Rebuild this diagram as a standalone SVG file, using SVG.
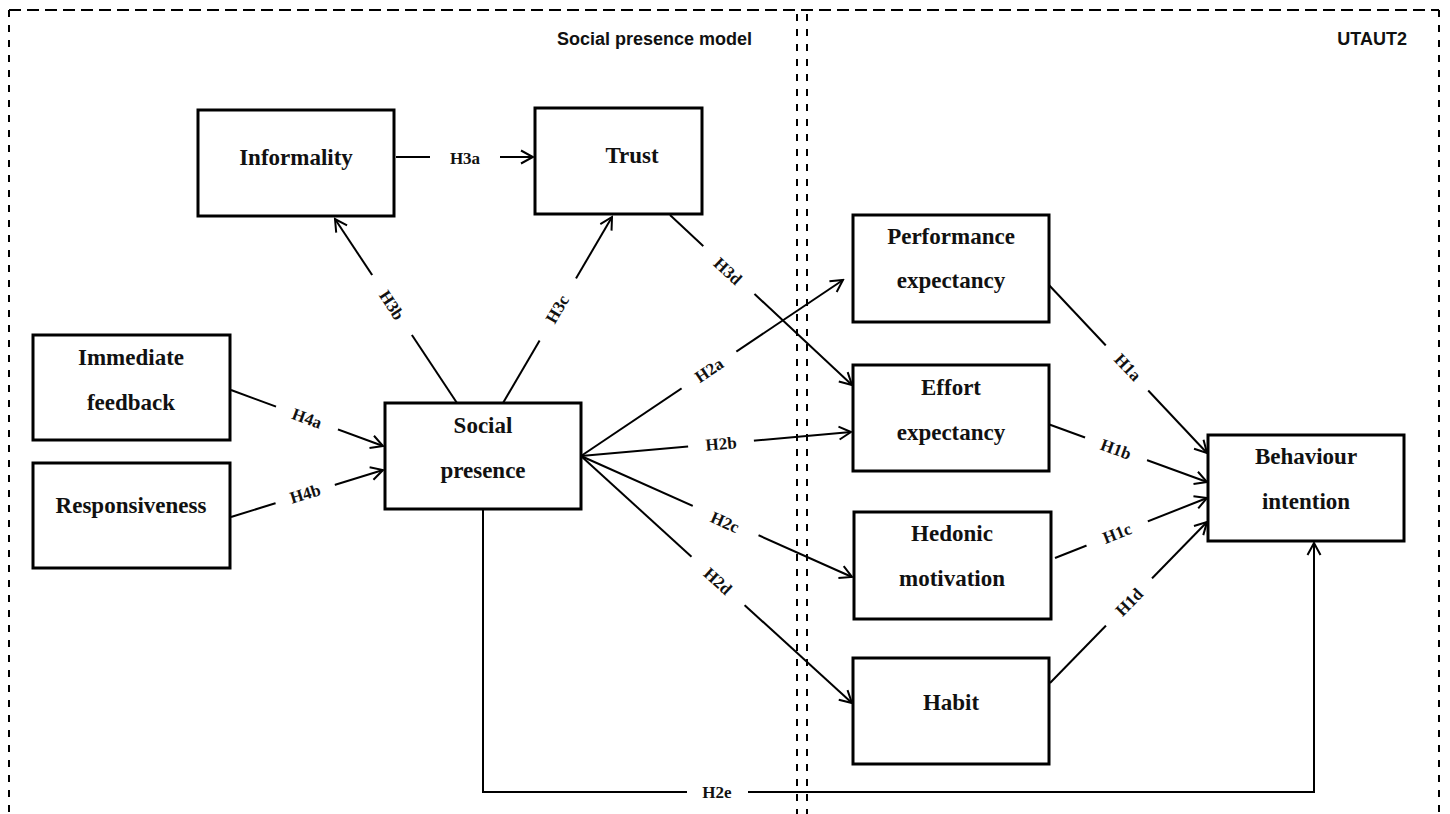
<svg xmlns="http://www.w3.org/2000/svg" width="1450" height="814" viewBox="0 0 1450 814">
<style>
.bg{fill:#fff}
.box{fill:#fff;stroke:#000;stroke-width:3}
.nt{font-family:"Liberation Serif","Times New Roman",serif;font-weight:bold;font-size:23px;fill:#111;text-anchor:middle}
.lt{font-family:"Liberation Serif","Times New Roman",serif;font-weight:bold;font-size:17px;fill:#111;text-anchor:middle}
.hd{font-family:"Liberation Sans",Arial,sans-serif;font-weight:bold;font-size:18px;fill:#111;text-anchor:end}
.dh{stroke:#000;stroke-width:2;stroke-dasharray:12 6;fill:none}
.dv{stroke:#000;stroke-width:2;stroke-dasharray:7 8;fill:none}
.cn{stroke:#000;stroke-width:2;fill:none}
.ar{marker-end:url(#arr)}
.gap{fill:#fff}
</style>
<defs>
<marker id="arr" viewBox="-14 -8 16 16" refX="0" refY="0" markerWidth="16" markerHeight="16" markerUnits="userSpaceOnUse" orient="auto">
<path d="M-12,-6.5 L0,0 L-12,6.5" fill="none" stroke="#000" stroke-width="2"/>
</marker>
</defs>
<rect class="bg" x="0" y="0" width="1450" height="814"/>
<g id="frames">
<line class="dh" x1="9" y1="10" x2="1439" y2="10"/>
<line class="dv" x1="9" y1="10" x2="9" y2="814"/>
<line class="dv" x1="797" y1="14" x2="797" y2="814"/>
<line class="dv" x1="807" y1="14" x2="807" y2="814"/>
<line class="dv" x1="1439" y1="10" x2="1439" y2="814"/>
<text class="hd" x="752" y="45">Social presence model</text>
<text class="hd" x="1407" y="45">UTAUT2</text>
</g>
<g id="connectors">
<line class="cn ar" x1="396" y1="157" x2="533" y2="157"/>
<line class="cn ar" x1="457" y1="403" x2="335" y2="219"/>
<line class="cn ar" x1="503" y1="403" x2="612" y2="217"/>
<line class="cn ar" x1="670" y1="215" x2="852" y2="385"/>
<line class="cn ar" x1="581" y1="456" x2="843" y2="280"/>
<line class="cn ar" x1="581" y1="456" x2="851" y2="432"/>
<line class="cn ar" x1="581" y1="456" x2="852" y2="577"/>
<line class="cn ar" x1="581" y1="456" x2="852" y2="703"/>
<polyline class="cn ar" points="483,509 483,792 1314,792 1314,543"/>
<line class="cn ar" x1="231" y1="390" x2="383" y2="446"/>
<line class="cn ar" x1="231" y1="517" x2="383" y2="470"/>
<line class="cn ar" x1="1048" y1="284" x2="1207" y2="453"/>
<line class="cn ar" x1="1048" y1="424" x2="1207" y2="482"/>
<line class="cn ar" x1="1055" y1="558" x2="1207" y2="498"/>
<line class="cn ar" x1="1050" y1="683" x2="1207" y2="522"/>
</g>
<g id="labels">
<g transform="translate(465,158)"><rect class="gap" x="-35" y="-11" width="70" height="22"/><text class="lt" y="6">H3a</text></g>
<g transform="translate(392,305) rotate(56.6)"><rect class="gap" x="-36" y="-11" width="72" height="22"/><text class="lt" y="6">H3b</text></g>
<g transform="translate(557,309) rotate(-59.5)"><rect class="gap" x="-36" y="-11" width="72" height="22"/><text class="lt" y="6">H3c</text></g>
<g transform="translate(728,271) rotate(42.9)"><rect class="gap" x="-35" y="-11" width="70" height="22"/><text class="lt" y="6">H3d</text></g>
<g transform="translate(709,370) rotate(-33.9)"><rect class="gap" x="-33" y="-11" width="66" height="22"/><text class="lt" y="6">H2a</text></g>
<g transform="translate(721,443.5) rotate(-5.1)"><rect class="gap" x="-33" y="-11" width="66" height="22"/><text class="lt" y="6">H2b</text></g>
<g transform="translate(725,522) rotate(24)"><rect class="gap" x="-36" y="-11" width="72" height="22"/><text class="lt" y="6">H2c</text></g>
<g transform="translate(718,581) rotate(42.3)"><rect class="gap" x="-36" y="-11" width="72" height="22"/><text class="lt" y="6">H2d</text></g>
<g transform="translate(717,792)"><rect class="gap" x="-30" y="-11" width="61" height="22"/><text class="lt" y="6">H2e</text></g>
<g transform="translate(307,418) rotate(20.2)"><rect class="gap" x="-33" y="-11" width="66" height="22"/><text class="lt" y="6">H4a</text></g>
<g transform="translate(305,493.5) rotate(-17.2)"><rect class="gap" x="-31" y="-11" width="62" height="22"/><text class="lt" y="6">H4b</text></g>
<g transform="translate(1128,367) rotate(46.6)"><rect class="gap" x="-31" y="-11" width="62" height="22"/><text class="lt" y="6">H1a</text></g>
<g transform="translate(1116,449) rotate(20)"><rect class="gap" x="-33" y="-11" width="66" height="22"/><text class="lt" y="6">H1b</text></g>
<g transform="translate(1117,533) rotate(-21.5)"><rect class="gap" x="-33" y="-11" width="66" height="22"/><text class="lt" y="6">H1c</text></g>
<g transform="translate(1129,602) rotate(-45.7)"><rect class="gap" x="-33" y="-11" width="66" height="22"/><text class="lt" y="6">H1d</text></g>
</g>
<g id="node-informality"><rect class="box" x="198" y="110" width="196" height="106"/><text class="nt" x="296" y="165">Informality</text></g>
<g id="node-trust"><rect class="box" x="535" y="108" width="167" height="106"/><text class="nt" x="632" y="163">Trust</text></g>
<g id="node-immediate-feedback"><rect class="box" x="33" y="335" width="197" height="105"/><text class="nt" x="131" y="365">Immediate</text><text class="nt" x="131" y="410">feedback</text></g>
<g id="node-responsiveness"><rect class="box" x="33" y="463" width="197" height="105"/><text class="nt" x="131" y="513">Responsiveness</text></g>
<g id="node-social-presence"><rect class="box" x="385" y="403" width="196" height="106"/><text class="nt" x="483" y="433">Social</text><text class="nt" x="483" y="478">presence</text></g>
<g id="node-performance-expectancy"><rect class="box" x="853" y="215" width="196" height="107"/><text class="nt" x="951" y="244">Performance</text><text class="nt" x="951" y="288">expectancy</text></g>
<g id="node-effort-expectancy"><rect class="box" x="853" y="365" width="196" height="106"/><text class="nt" x="951" y="395">Effort</text><text class="nt" x="951" y="440">expectancy</text></g>
<g id="node-hedonic-motivation"><rect class="box" x="854" y="512" width="197" height="107"/><text class="nt" x="952" y="541">Hedonic</text><text class="nt" x="952" y="586">motivation</text></g>
<g id="node-habit"><rect class="box" x="853" y="658" width="196" height="106"/><text class="nt" x="951" y="710">Habit</text></g>
<g id="node-behaviour-intention"><rect class="box" x="1208" y="435" width="196" height="106"/><text class="nt" x="1306" y="464">Behaviour</text><text class="nt" x="1306" y="509">intention</text></g>
</svg>
